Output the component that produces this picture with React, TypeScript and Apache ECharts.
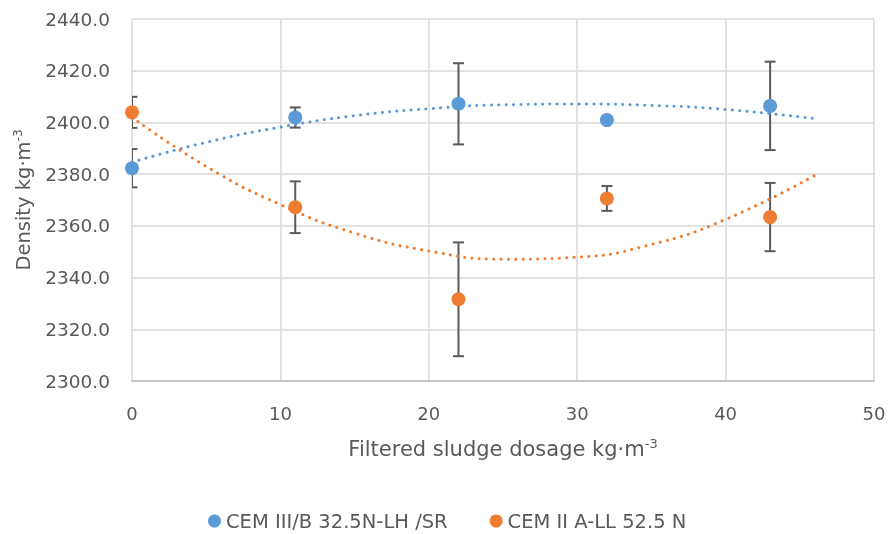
import { useEffect, useRef } from "react";
import * as echarts from "echarts";

const blueName = "CEM III/B 32.5N-LH /SR";
const orangeName = "CEM II A-LL 52.5 N";
const doses = [0, 11, 22, 32, 43];
const blueDensity = [2382.3, 2401.9, 2407.2, 2400.9, 2406.4];
const blueError = [7.4, 3.9, 15.7, 1.0, 17.1];
const orangeDensity = [2403.9, 2367.2, 2331.6, 2370.6, 2363.4];
const orangeError = [6.0, 10.0, 22.0, 4.8, 13.2];
const trendX = [0, 5, 10, 15, 20, 25, 30, 35, 40, 46];
const blueTrend = [2384.6, 2392.3, 2398.2, 2402.6, 2405.3, 2406.8, 2407.1, 2406.6, 2405.0, 2401.5];
const orangeTrend = [2402.0, 2383.0, 2368.2, 2357.2, 2350.3, 2347.1, 2347.9, 2352.8, 2362.5, 2379.5];

const BLUE = "#5B9BD5";
const ORANGE = "#ED7D31";
const TEXT = "#595959";
const FONT = "DejaVu Sans";

function errData(vals: number[], errs: number[]) {
  return doses.map((d, i) => [d, vals[i] - errs[i], vals[i] + errs[i]]);
}

function renderErr(params: any, api: any) {
  const x = api.value(0);
  const top = api.coord([x, api.value(2)]);
  const bot = api.coord([x, api.value(1)]);
  const hw = 5.5;
  const style = { stroke: "#5a5a5a", lineWidth: 2 };
  return {
    type: "group",
    children: [
      { type: "line", shape: { x1: top[0], y1: top[1], x2: bot[0], y2: bot[1] }, style },
      { type: "line", shape: { x1: top[0] - hw, y1: top[1], x2: top[0] + hw, y2: top[1] }, style },
      { type: "line", shape: { x1: bot[0] - hw, y1: bot[1], x2: bot[0] + hw, y2: bot[1] }, style },
    ],
  };
}

export default function App() {
  const ref = useRef<HTMLDivElement>(null);
  useEffect(() => {
    if (!ref.current) return;
    const chart = echarts.init(ref.current, null, { renderer: "svg" });
    const dotted = { width: 3, type: [0.1, 7.2] as any, cap: "round" as any };
    chart.setOption({
      animation: false,
      textStyle: { fontFamily: FONT },
      grid: { left: 132, right: 19, top: 19, bottom: 153, containLabel: false },
      legend: {
        data: [blueName, orangeName],
        left: 203,
        top: 506,
        icon: "circle",
        itemWidth: 13,
        itemHeight: 13,
        itemGap: 42,
        textStyle: { fontFamily: FONT, fontSize: 19.5, color: TEXT },
      },
      xAxis: {
        type: "value",
        min: 0,
        max: 50,
        interval: 10,
        name: "Filtered sludge dosage kg·m{sup|-3}",
        nameLocation: "middle",
        nameGap: 56,
        nameTextStyle: {
          fontFamily: FONT,
          fontSize: 21,
          color: TEXT,
          rich: { sup: { fontFamily: FONT, fontSize: 13, color: TEXT, verticalAlign: "top", padding: [0, 0, 10, 0] } },
        },
        axisLine: { show: true, lineStyle: { color: "#bfbfbf", width: 1.5 } },
        axisTick: { show: false },
        axisLabel: { fontFamily: FONT, fontSize: 18, color: TEXT, margin: 23 },
        splitLine: { show: true, lineStyle: { color: "#d9d9d9", width: 1.5 } },
      },
      yAxis: {
        type: "value",
        min: 2300,
        max: 2440,
        interval: 20,
        name: "Density kg·m{sup|-3}",
        nameLocation: "middle",
        nameRotate: 90,
        nameGap: 98,
        nameTextStyle: {
          fontFamily: FONT,
          fontSize: 19.5,
          color: TEXT,
          rich: { sup: { fontFamily: FONT, fontSize: 12, color: TEXT, verticalAlign: "top", padding: [0, 0, 10, 0] } },
        },
        axisLine: { show: false },
        axisTick: { show: false },
        axisLabel: {
          fontFamily: FONT,
          fontSize: 18.5,
          color: TEXT,
          margin: 22,
          formatter: (v: number) => v.toFixed(1),
        },
        splitLine: { show: true, lineStyle: { color: "#d9d9d9", width: 1.5 } },
      },
      series: [
        {
          name: "blueErr",
          type: "custom",
          renderItem: renderErr,
          data: errData(blueDensity, blueError),
          encode: { x: 0, y: [1, 2] },
          clip: true,
          z: 2,
          silent: true,
        },
        {
          name: "orangeErr",
          type: "custom",
          renderItem: renderErr,
          data: errData(orangeDensity, orangeError),
          encode: { x: 0, y: [1, 2] },
          clip: true,
          z: 2,
          silent: true,
        },
        {
          name: "blueTrend",
          type: "line",
          data: trendX.map((x, i) => [x, blueTrend[i]]),
          smooth: true,
          showSymbol: false,
          lineStyle: { color: BLUE, ...dotted },
          z: 3,
          silent: true,
        },
        {
          name: "orangeTrend",
          type: "line",
          data: trendX.map((x, i) => [x, orangeTrend[i]]),
          smooth: true,
          showSymbol: false,
          lineStyle: { color: ORANGE, ...dotted },
          z: 3,
          silent: true,
        },
        {
          name: blueName,
          type: "scatter",
          data: doses.map((x, i) => [x, blueDensity[i]]),
          symbolSize: 14,
          itemStyle: { color: BLUE, opacity: 1 },
          z: 4,
        },
        {
          name: orangeName,
          type: "scatter",
          data: doses.map((x, i) => [x, orangeDensity[i]]),
          symbolSize: 14,
          itemStyle: { color: ORANGE, opacity: 1 },
          z: 4,
        },
      ],
    });
    return () => chart.dispose();
  }, []);
  return <div ref={ref} style={{ width: 893, height: 534, position: "fixed", left: 0, top: 0 }} />;
}
